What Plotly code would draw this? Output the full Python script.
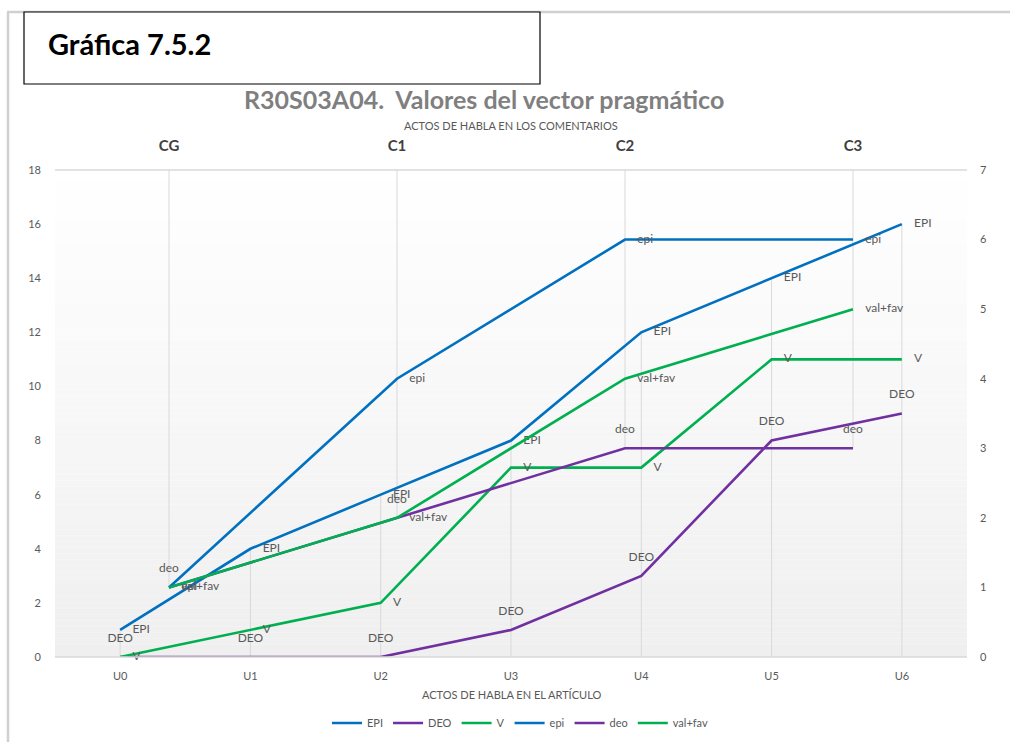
import plotly.graph_objects as go

# Categories
articulo = ["U0", "U1", "U2", "U3", "U4", "U5", "U6"]
comentarios = ["CG", "C1", "C2", "C3"]

# Speech acts in the article (left axis)
epi_art = [1, 4, 6, 8, 12, 14, 16]
deo_art = [0, 0, 0, 1, 3, 8, 9]
v_art = [0, 1, 2, 7, 7, 11, 11]

# Speech acts in the comments (right axis)
epi_com = [1, 4, 6, 6]
deo_com = [1, 2, 3, 3]
valfav_com = [1, 2, 4, 5]

left_ticks = list(range(0, 19, 2))
right_ticks = list(range(0, 8))

BLUE = "#0070C0"
PURPLE = "#7030A0"
GREEN = "#00B050"
LABEL = "#595959"
GRID = "#d9d9d9"
FONT = "Lato"

W, H = 1010, 742
L, R, T, B = 55, 967, 170, 657  # plot area in pixels


def px_x(px):
    return (px - L) / (R - L)


def px_y(py):
    return (B - py) / (B - T)


fig = go.Figure()

series = [
    ("EPI", articulo, epi_art, BLUE, "middle right", "x", "y"),
    ("DEO", articulo, deo_art, PURPLE, "top center", "x", "y"),
    ("V", articulo, v_art, GREEN, "middle right", "x", "y"),
    ("epi", comentarios, epi_com, BLUE, "middle right", "x2", "y2"),
    ("deo", comentarios, deo_com, PURPLE, "top center", "x2", "y2"),
    ("val+fav", comentarios, valfav_com, GREEN, "middle right", "x2", "y2"),
]

for name, cats, vals, color, pos, xa, ya in series:
    fig.add_trace(go.Scatter(
        x=cats, y=vals, name=name, mode="lines+markers+text",
        text=[name] * len(vals), textposition=pos,
        textfont=dict(size=12, color=LABEL, family=FONT),
        line=dict(color=color, width=2.6),
        # invisible markers only space the value labels away from the line
        marker=dict(size=18, color="rgba(0,0,0,0)",
                    line=dict(width=0)),
        xaxis=xa, yaxis=ya, cliponaxis=False,
    ))

shapes = []

# Plot-area background: vertical fade from white to light grey
n_bands = 80
for i in range(n_bands):
    t = (i + 0.5) / n_bands
    g = int(round(255 - (255 - 239) * t))
    shapes.append(dict(
        type="rect", xref="paper", yref="paper",
        x0=0, x1=1, y0=1 - (i + 1) / n_bands, y1=1 - i / n_bands,
        fillcolor=f"rgb({g},{g},{g})", line=dict(width=0), layer="below",
    ))

# Drop lines: article series down to the bottom axis
for i, cat in enumerate(articulo):
    top = max(epi_art[i], deo_art[i], v_art[i])
    shapes.append(dict(type="line", xref="x", yref="y", x0=cat, x1=cat,
                       y0=0, y1=top, line=dict(color=GRID, width=1),
                       layer="below"))

# Drop lines: comment series up to the top axis
for i, cat in enumerate(comentarios):
    low = min(epi_com[i], deo_com[i], valfav_com[i])
    shapes.append(dict(type="line", xref="x2", yref="y2", x0=cat, x1=cat,
                       y0=low, y1=right_ticks[-1],
                       line=dict(color=GRID, width=1), layer="below"))

# Plot-area top edge and bottom axis line
shapes.append(dict(type="line", xref="paper", yref="paper", x0=0, x1=1,
                   y0=1, y1=1, line=dict(color=GRID, width=1.5)))
shapes.append(dict(type="line", xref="paper", yref="paper", x0=0, x1=1,
                   y0=0, y1=0, line=dict(color=GRID, width=1.5)))

# Chart frame (left and top edges)
shapes.append(dict(type="line", xref="paper", yref="paper",
                   x0=px_x(8), x1=px_x(8), y0=px_y(12), y1=px_y(760),
                   line=dict(color="#d0d0d0", width=2.5)))
shapes.append(dict(type="line", xref="paper", yref="paper",
                   x0=px_x(7), x1=px_x(1020), y0=px_y(12), y1=px_y(12),
                   line=dict(color="#d0d0d0", width=2.5)))

# Caption box
shapes.append(dict(type="rect", xref="paper", yref="paper",
                   x0=px_x(24), x1=px_x(540), y0=px_y(84), y1=px_y(12),
                   fillcolor="white", line=dict(color="black", width=1.2)))

annotations = [
    dict(text="<b>Gráfica 7.5.2</b>", x=px_x(46), y=px_y(43),
         xanchor="left", yanchor="middle",
         font=dict(size=29, color="black", family=FONT)),
    dict(text="<b>R30S03A04.  Valores del vector pragmático</b>",
         x=px_x(484), y=px_y(99), xanchor="center", yanchor="middle",
         font=dict(size=25, color="#7f7f7f", family=FONT)),
    dict(text="ACTOS DE HABLA EN LOS COMENTARIOS", x=px_x(511), y=px_y(125),
         xanchor="center", yanchor="middle",
         font=dict(size=11, color=LABEL, family=FONT)),
    dict(text="ACTOS DE HABLA EN EL ARTÍCULO", x=px_x(511), y=px_y(694),
         xanchor="center", yanchor="middle",
         font=dict(size=11, color=LABEL, family=FONT)),
]
for a in annotations:
    a.update(xref="paper", yref="paper", showarrow=False)

fig.update_layout(
    width=W, height=H,
    margin=dict(l=L, r=W - R, t=T, b=H - B, pad=0, autoexpand=False),
    paper_bgcolor="white", plot_bgcolor="rgba(0,0,0,0)",
    font=dict(family=FONT, size=11, color=LABEL),
    shapes=shapes, annotations=annotations,
    showlegend=True,
    legend=dict(orientation="h", x=px_x(520), y=px_y(723),
                xanchor="center", yanchor="middle",
                font=dict(size=11, color=LABEL, family=FONT),
                itemwidth=30, tracegroupgap=0, bgcolor="rgba(0,0,0,0)"),
    xaxis=dict(type="category", categoryorder="array", categoryarray=articulo,
               range=[-0.5, len(articulo) - 0.5], showgrid=False,
               zeroline=False, showline=False, ticks="", automargin=False,
               ticklabelstandoff=11,
               tickfont=dict(size=11, color=LABEL, family=FONT)),
    xaxis2=dict(type="category", categoryorder="array",
                categoryarray=comentarios, overlaying="x", side="top",
                range=[-0.5, len(comentarios) - 0.5], showgrid=False,
                zeroline=False, showline=False, ticks="", automargin=False,
                ticklabelstandoff=15,
                tickfont=dict(size=15, color="#404040", family=FONT,
                              weight="bold")),
    yaxis=dict(range=[0, left_ticks[-1]], tickvals=left_ticks,
               showgrid=False, zeroline=False, showline=False, ticks="",
               automargin=False, ticklabelstandoff=13,
               tickfont=dict(size=11, color=LABEL, family=FONT)),
    yaxis2=dict(range=[0, right_ticks[-1]], tickvals=right_ticks,
                overlaying="y", side="right", showgrid=False,
                zeroline=False, showline=False, ticks="", automargin=False,
                ticklabelstandoff=12,
                tickfont=dict(size=11, color=LABEL, family=FONT)),
)

fig.write_html("out.html")
